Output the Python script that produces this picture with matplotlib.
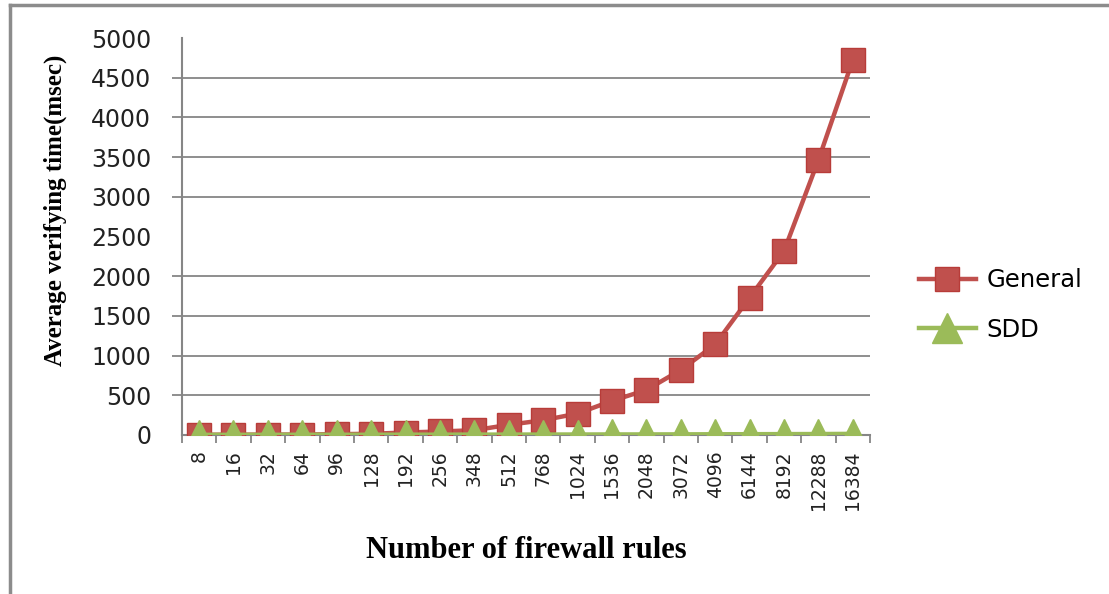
import numpy as np
import matplotlib.pyplot as plt
from matplotlib.lines import Line2D

rules = ['8', '16', '32', '64', '96', '128', '192', '256', '348', '512', '768', '1024',
         '1536', '2048', '3072', '4096', '6144', '8192', '12288', '16384']
general = [3, 4, 5, 6, 10, 15, 31, 44, 60, 128, 186, 270, 430, 567, 819, 1140, 1730, 2317, 3463, 4723]
sdd = [2, 2, 2, 3, 3, 3, 4, 4, 5, 5, 6, 6, 7, 7, 8, 9, 10, 11, 12, 14]
grid_rows = [500, 1000, 1500, 2000, 3000, 3500, 4000, 4500]

red = '#C0504D'
green = '#9BBB59'
grey = '#868686'

fig = plt.figure(figsize=(11.09, 5.94), dpi=100)
ax = fig.add_axes([0.164, 0.2677, 0.6205, 0.6683])

x = np.arange(len(rules))
ax.plot(x, general, color=red, lw=3.2, marker='s', ms=17.5, mfc=red, mec='#B83C39', label='General', zorder=3)
ax.plot(x, sdd, color=green, lw=3.2, marker='^', ms=22, mfc=green, mec=green, label='SDD', zorder=4)

ax.set_xlim(-0.5, len(rules) - 0.5)
ax.set_ylim(0, 5000)

# gridlines, running a little past the y axis like the tick marks of the original
ax.hlines(grid_rows, -0.8, len(rules) - 0.5, color=grey, lw=1.3, clip_on=False, zorder=1)

ax.set_yticks(np.arange(0, 5001, 500))
ax.set_yticklabels([str(v) for v in range(0, 5001, 500)])
ax.tick_params(axis='y', length=0, pad=22, labelsize=17, labelcolor='#222222')

# x axis: labels in category centres, marks between categories
ax.set_xticks(x)
ax.set_xticklabels(rules, rotation=90)
ax.tick_params(axis='x', which='major', length=0, pad=11, labelsize=13.5, labelcolor='#222222')
ax.set_xticks(np.arange(-0.5, len(rules), 1), minor=True)
ax.tick_params(axis='x', which='minor', length=6, width=1.3, color=grey, direction='out')

for s in ['top', 'right']:
    ax.spines[s].set_visible(False)
for s in ['left', 'bottom']:
    ax.spines[s].set_color(grey)
    ax.spines[s].set_linewidth(1.5)

ax.set_ylabel('Average verifying time(msec)', family='Liberation Serif', fontweight='bold',
              fontsize=18)
ax.yaxis.set_label_coords(-0.167, 0.567)
ax.set_xlabel('Number of firewall rules', family='Liberation Serif', fontweight='bold',
              fontsize=22, labelpad=19)

leg = ax.legend(loc='center left', bbox_to_anchor=(1.039, 0.327), frameon=False, fontsize=17.5,
                handlelength=2.35, labelspacing=1.05, handletextpad=0.45)

# outer frame of the chart
fig.add_artist(Line2D([10 / 1109, 10 / 1109], [0, 1 - 5 / 594], color='#8C8C8C', lw=2.5))
fig.add_artist(Line2D([10 / 1109, 1], [1 - 5 / 594, 1 - 5 / 594], color='#8C8C8C', lw=2.5))

fig.savefig('out.png', dpi=100)
